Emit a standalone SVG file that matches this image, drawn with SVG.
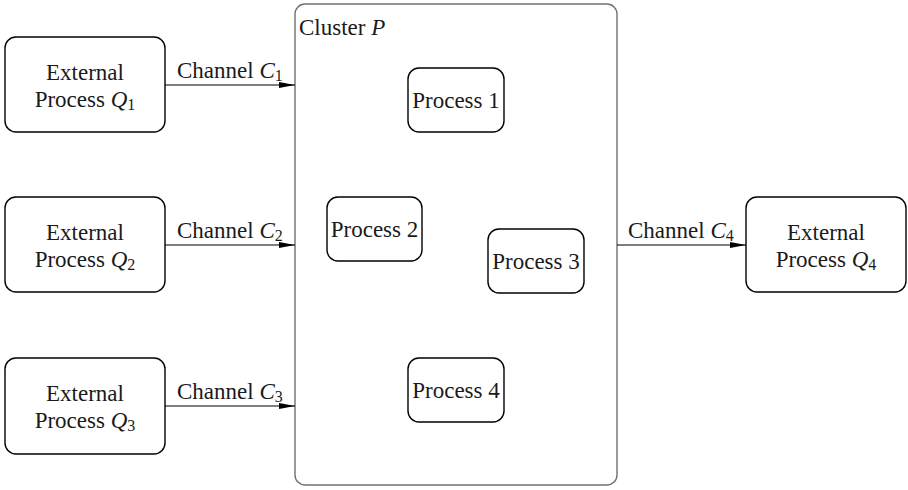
<svg xmlns="http://www.w3.org/2000/svg" width="908" height="490" viewBox="0 0 908 490">
<style>
text{font-family:"Liberation Serif","Times New Roman",serif;font-size:23px;fill:#1a1a1a}
.n{fill:#fff;stroke:#000;stroke-width:1.4}
.c{fill:none;stroke:#707070;stroke-width:1.4}
.e{fill:none;stroke:#000;stroke-width:1.2}
.m{text-anchor:middle}
.i{font-style:italic}
.s{font-size:16px}
</style>
<defs>
<marker id="ah" viewBox="0 0 16 7" refX="16" refY="3.5" markerWidth="16" markerHeight="7" markerUnits="userSpaceOnUse" orient="auto">
<path d="M0,0.5 L16,3.5 L0,6.5 Z" fill="#000"/>
</marker>
</defs>
<g id="clusterP">
<rect class="c" x="295" y="4" width="322" height="481" rx="10"/>
<text x="299" y="35">Cluster <tspan class="i">P</tspan></text>
</g>
<g id="q1">
<rect class="n" x="5" y="37" width="160" height="95" rx="11"/>
<text class="m" x="85" y="80">External</text>
<text class="m" x="85" y="107">Process <tspan class="i">Q</tspan><tspan class="s" dy="3">1</tspan></text>
</g>
<g id="q2">
<rect class="n" x="5" y="197" width="160" height="95" rx="11"/>
<text class="m" x="85" y="240">External</text>
<text class="m" x="85" y="267">Process <tspan class="i">Q</tspan><tspan class="s" dy="3">2</tspan></text>
</g>
<g id="q3">
<rect class="n" x="5" y="358" width="160" height="96" rx="11"/>
<text class="m" x="85" y="401">External</text>
<text class="m" x="85" y="428">Process <tspan class="i">Q</tspan><tspan class="s" dy="3">3</tspan></text>
</g>
<g id="q4">
<rect class="n" x="746" y="197" width="160" height="95" rx="11"/>
<text class="m" x="826" y="240">External</text>
<text class="m" x="826" y="267">Process <tspan class="i">Q</tspan><tspan class="s" dy="3">4</tspan></text>
</g>
<g id="p1">
<rect class="n" x="408" y="68" width="96" height="64" rx="11"/>
<text class="m" x="456" y="108">Process 1</text>
</g>
<g id="p2">
<rect class="n" x="327" y="197" width="95" height="64" rx="11"/>
<text class="m" x="374.5" y="237">Process 2</text>
</g>
<g id="p3">
<rect class="n" x="488" y="229" width="96" height="64" rx="11"/>
<text class="m" x="536" y="269">Process 3</text>
</g>
<g id="p4">
<rect class="n" x="408" y="358" width="96" height="64" rx="11"/>
<text class="m" x="456" y="398">Process 4</text>
</g>
<g id="connectors">
<line class="e" x1="165" y1="85" x2="295" y2="85" marker-end="url(#ah)"/>
<text x="177" y="78">Channel <tspan class="i">C</tspan><tspan class="s" dy="3">1</tspan></text>
<line class="e" x1="165" y1="245" x2="295" y2="245" marker-end="url(#ah)"/>
<text x="177" y="238">Channel <tspan class="i">C</tspan><tspan class="s" dy="3">2</tspan></text>
<line class="e" x1="165" y1="406" x2="295" y2="406" marker-end="url(#ah)"/>
<text x="177" y="399">Channel <tspan class="i">C</tspan><tspan class="s" dy="3">3</tspan></text>
<line class="e" x1="617" y1="245" x2="746" y2="245" marker-end="url(#ah)"/>
<text x="628" y="238">Channel <tspan class="i">C</tspan><tspan class="s" dy="3">4</tspan></text>
</g>
</svg>
